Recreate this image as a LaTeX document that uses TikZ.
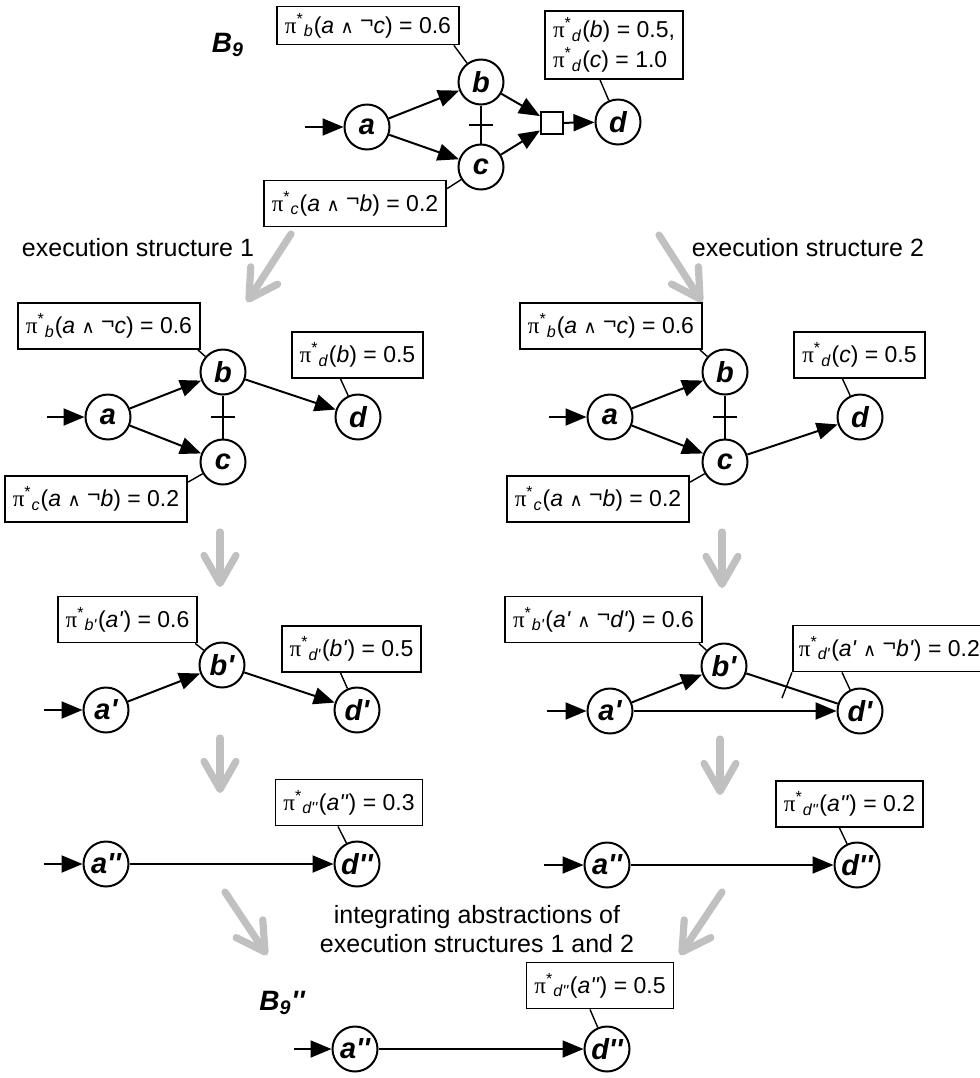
\documentclass[tikz,border=0pt]{standalone}
\usepackage{fontspec}
\setmainfont{Liberation Sans}[Ligatures=TeXOff]
\newfontfamily\grkfont{Liberation Serif}
\newfontfamily\symfont{DejaVu Sans}
\usetikzlibrary{arrows.meta, calc}
\definecolor{flowgray}{RGB}{192,192,192}
\newcommand{\pst}[1]{{\grkfont π}\textsuperscript{*}\textsubscript{\textit{#1}}}
\newcommand{\andsym}{{\symfont\fontsize{9}{9}\selectfont ∧}}
\newcommand{\negsym}{\raisebox{0.35ex}{¬}}

\begin{document}
\begin{tikzpicture}[
        x=0.5pt, y=-0.5pt,
        state/.style={circle, draw, line width=1pt, minimum size=22.5pt, inner sep=0pt, font=\fontsize{14.5}{16}\selectfont\bfseries\itshape},
        prob/.style={rectangle, draw, line width=0.9pt, inner xsep=4pt, minimum height=23pt, font=\fontsize{11.5}{15}\selectfont},
        joinbox/.style={rectangle, draw, line width=1pt, minimum size=11pt, inner sep=0pt},
        edge/.style={line width=1pt, -{Triangle[length=10.5pt, width=8.5pt]}},
        plain/.style={line width=1pt},
        pinline/.style={line width=0.7pt},
        flow/.style={draw=flowgray, line width=3.6pt, line cap=round, -{Straight Barb[length=14pt, width=16pt, round]}},
        caption/.style={font=\fontsize{12.5}{14.5}\selectfont, align=center},
        title/.style={font=\fontsize{14}{16}\selectfont\bfseries\itshape}
    ]
        \useasboundingbox (0,0) rectangle (980,1078);

        % B9
        \node[title] (t1) at (228,45) {B\textsubscript{9}};
        \coordinate (i1) at (305,127);
        \node[state] (a1) at (367,127) {a};
        \node[state] (b1) at (481,82) {b};
        \node[state] (c1) at (481,167) {c};
        \node[joinbox] (sq1) at (552,123) {};
        \node[state] (d1) at (618,122) {d};
        \node[prob, minimum height=18pt] (pb1) at (368,25.5) {\pst{b}(\textit{a} \andsym\ \negsym\textit{c}) = 0.6};
        \node[prob] (pc1) at (355,203.5) {\pst{c}(\textit{a} \andsym\ \negsym\textit{b}) = 0.2};
        \node[prob, align=left] (pd1) at (614,45) {\pst{d}(\textit{b}) = 0.5,\\\pst{d}(\textit{c}) = 1.0};

        \draw[edge] (i1) -- (a1);
        \draw[edge] (a1) -- (b1);
        \draw[edge] (a1) -- (c1);
        \draw[edge] (b1) -- (sq1);
        \draw[edge] (c1) -- (sq1);
        \draw[edge] (sq1) -- (d1);
        \draw[plain] (b1) -- (c1) coordinate[midway] (m1);
        \draw[plain] ([shift={(-12,0)}]m1) -- ([shift={(12,0)}]m1);
        \draw[pinline] ([shift={(-6,0)}]pb1.south east) -- (b1);
        \draw[pinline] ([shift={(0,9)}]pc1.north east) -- (c1);
        \draw[pinline] ([shift={(-14,0)}]pd1.south) -- (d1);

        % Splitting
        \node[caption] (e1) at (138,248) {execution structure 1};
        \node[caption] (e2) at (808,248) {execution structure 2};
        \coordinate (f1s) at (291,234); \coordinate (f1e) at (247,302);
        \coordinate (f2s) at (659,235); \coordinate (f2e) at (702,302);
        \draw[flow] (f1s) -- (f1e);
        \draw[flow] (f2s) -- (f2e);

        % Execution structure 1
        \coordinate (i2) at (47,417);
        \node[state] (a2) at (108,417) {a};
        \node[state] (b2) at (223,372) {b};
        \node[state] (c2) at (223,462) {c};
        \node[state] (d2) at (358,417) {d};
        \node[prob] (pb2) at (109,326) {\pst{b}(\textit{a} \andsym\ \negsym\textit{c}) = 0.6};
        \node[prob] (pd2) at (357.5,355) {\pst{d}(\textit{b}) = 0.5};
        \node[prob] (pc2) at (96,499) {\pst{c}(\textit{a} \andsym\ \negsym\textit{b}) = 0.2};
        \draw[edge] (i2) -- (a2);
        \draw[edge] (a2) -- (b2);
        \draw[edge] (a2) -- (c2);
        \draw[edge] (b2) -- (d2);
        \draw[plain] (b2) -- (c2) coordinate[midway] (m2);
        \draw[plain] ([shift={(-12,0)}]m2) -- ([shift={(12,0)}]m2);
        \draw[pinline] ([shift={(-3,0)}]pb2.south east) -- (b2);
        \draw[pinline] ([shift={(-17,0)}]pd2.south) -- (d2);
        \draw[pinline] ([shift={(0,7)}]pc2.north east) -- (c2);

        % Execution structure 2
        \coordinate (i3) at (549,417);
        \node[state] (a3) at (610,417) {a};
        \node[state] (b3) at (725,372) {b};
        \node[state] (c3) at (725,462) {c};
        \node[state] (d3) at (860,417) {d};
        \node[prob] (pb3) at (611,326) {\pst{b}(\textit{a} \andsym\ \negsym\textit{c}) = 0.6};
        \node[prob] (pd3) at (859.5,355) {\pst{d}(\textit{c}) = 0.5};
        \node[prob] (pc3) at (598,499) {\pst{c}(\textit{a} \andsym\ \negsym\textit{b}) = 0.2};
        \draw[edge] (i3) -- (a3);
        \draw[edge] (a3) -- (b3);
        \draw[edge] (a3) -- (c3);
        \draw[edge] (c3) -- (d3);
        \draw[plain] (b3) -- (c3) coordinate[midway] (m3);
        \draw[plain] ([shift={(-12,0)}]m3) -- ([shift={(12,0)}]m3);
        \draw[pinline] ([shift={(-3,0)}]pb3.south east) -- (b3);
        \draw[pinline] ([shift={(-17,0)}]pd3.south) -- (d3);
        \draw[pinline] ([shift={(0,7)}]pc3.north east) -- (c3);

        \coordinate (f3s) at (220,532); \coordinate (f3e) at (220,587);
        \coordinate (f4s) at (722,532); \coordinate (f4e) at (722,588);
        \draw[flow] (f3s) -- (f3e);
        \draw[flow] (f4s) -- (f4e);

        % First abstraction, structure 1
        \coordinate (i4) at (44,710);
        \node[state] (a4) at (106,710) {a'};
        \node[state] (b4) at (222,665) {b'};
        \node[state] (d4) at (357,710) {d'};
        \node[prob] (pb4) at (127.5,619.5) {\pst{b'}(\textit{a'}) = 0.6};
        \node[prob] (pd4) at (351.5,649) {\pst{d'}(\textit{b'}) = 0.5};
        \draw[edge] (i4) -- (a4);
        \draw[edge] (a4) -- (b4);
        \draw[edge] (b4) -- (d4);
        \draw[pinline] ([shift={(-3,0)}]pb4.south east) -- (b4);
        \draw[pinline] ([shift={(-11,0)}]pd4.south) -- (d4);

        % First abstraction, structure 2
        \coordinate (i5) at (547,711);
        \node[state] (a5) at (610,711) {a'};
        \node[state] (b5) at (724,666) {b'};
        \node[state] (d5) at (860,711) {d'};
        \node[prob] (pb5) at (603.5,619.5) {\pst{b'}(\textit{a'} \andsym\ \negsym\textit{d'}) = 0.6};
        \node[prob, anchor=west, inner xsep=3pt] (pd5) at (792,648.5) {\pst{d'}(\textit{a'} \andsym\ \negsym\textit{b'}) = 0.2};
        \coordinate (k5) at (782,698);
        \draw[edge] (i5) -- (a5);
        \draw[edge] (a5) -- (b5);
        \draw[edge] (a5) -- (d5);
        \draw[plain] (b5) -- (d5);
        \draw[pinline] ([shift={(-4,0)}]pb5.south east) -- (b5);
        \draw[pinline] ([shift={(50,0)}]pd5.south west) -- (d5);
        \draw[pinline] (pd5.south west) -- (k5);

        \coordinate (f5s) at (220,738); \coordinate (f5e) at (220,793);
        \coordinate (f6s) at (720,739); \coordinate (f6e) at (720,795);
        \draw[flow] (f5s) -- (f5e);
        \draw[flow] (f6s) -- (f6e);

        % Second abstraction
        \coordinate (i6) at (44,864);
        \node[state] (a6) at (106,864) {a''};
        \node[state] (d6) at (357,864) {d''};
        \node[prob] (pd6) at (349,802.5) {\pst{d''}(\textit{a''}) = 0.3};
        \draw[edge] (i6) -- (a6);
        \draw[edge] (a6) -- (d6);
        \draw[pinline] ([shift={(-11,0)}]pd6.south) -- (d6);

        \coordinate (i7) at (544,865);
        \node[state] (a7) at (607,865) {a''};
        \node[state] (d7) at (857,865) {d''};
        \node[prob] (pd7) at (849.5,804) {\pst{d''}(\textit{a''}) = 0.2};
        \draw[edge] (i7) -- (a7);
        \draw[edge] (a7) -- (d7);
        \draw[pinline] ([shift={(-10,0)}]pd7.south) -- (d7);

        % Integration
        \node[caption] (e3) at (477,929) {integrating abstractions of\\execution structures 1 and 2};
        \coordinate (f7s) at (225,892); \coordinate (f7e) at (267,955);
        \coordinate (f8s) at (722,892); \coordinate (f8e) at (680,955);
        \draw[flow] (f7s) -- (f7e);
        \draw[flow] (f8s) -- (f8e);

        % B9''
        \node[title] (t8) at (282,1003) {B\textsubscript{9}''};
        \coordinate (i8) at (294,1049);
        \node[state] (a8) at (355,1049) {a''};
        \node[state] (d8) at (607,1049) {d''};
        \node[prob] (pd8) at (600,985.5) {\pst{d''}(\textit{a''}) = 0.5};
        \draw[edge] (i8) -- (a8);
        \draw[edge] (a8) -- (d8);
        \draw[pinline] ([shift={(-10,0)}]pd8.south) -- (d8);
    \end{tikzpicture}
\end{document}
